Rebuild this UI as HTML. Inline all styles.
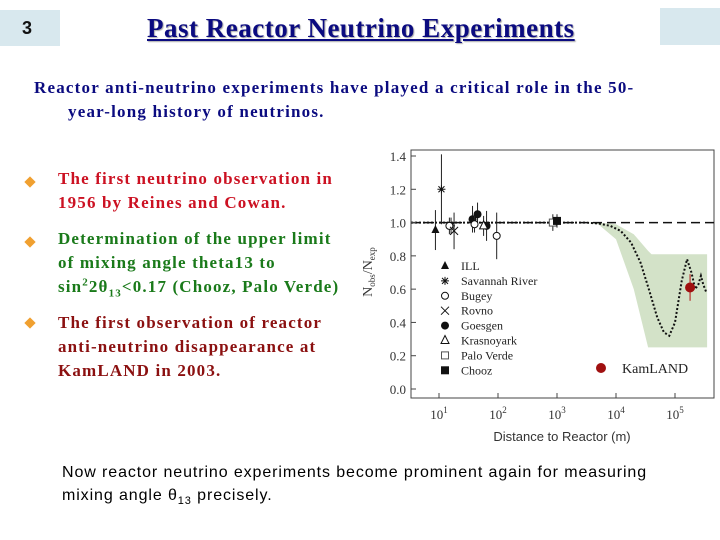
<!DOCTYPE html>
<html><head><meta charset="utf-8"><style>
body{margin:0;width:720px;height:540px;background:#fff;position:relative;overflow:hidden;font-family:"Liberation Serif",serif}
.abs{position:absolute;white-space:nowrap}
.b{font-weight:bold;font-size:17px;line-height:24px;letter-spacing:1.15px}
.b sup,.b sub{line-height:0;font-size:11px}
.bul{position:absolute;width:8px;height:8px;background:#f0a030;transform:rotate(45deg)}
</style></head><body>
<div class="abs" style="left:0;top:10px;width:60px;height:36px;background:#d8e8ee"></div>
<div class="abs" style="left:22px;top:18px;font:bold 18px 'Liberation Sans',sans-serif;color:#111">3</div>
<div class="abs" style="left:660px;top:8px;width:60px;height:37px;background:#d8e8ee"></div>
<div class="abs" style="left:147px;top:13px;font-weight:bold;font-size:27px;letter-spacing:0.5px;color:#0b0b80;text-decoration:underline;text-shadow:1px 1px 1px #aaa">Past Reactor Neutrino Experiments</div>
<div class="abs" style="left:34px;top:76px;font-weight:bold;font-size:17px;letter-spacing:1.2px;line-height:24px;color:#0b0b80">Reactor anti-neutrino experiments have played a critical role in the 50-<br><span style="padding-left:34px">year-long history of neutrinos.</span></div>
<div class="bul" style="left:26px;top:178px"></div>
<div class="bul" style="left:26px;top:238px"></div>
<div class="bul" style="left:26px;top:319px"></div>
<div class="abs b" style="left:58px;top:167px;color:#cc1122">The first neutrino observation in<br>1956 by Reines and Cowan.</div>
<div class="abs b" style="left:58px;top:227px;color:#1a7a1a">Determination of the upper limit<br>of mixing angle theta13 to<br>sin<sup>2</sup>2θ<sub>13</sub>&lt;0.17 (Chooz, Palo Verde)</div>
<div class="abs b" style="left:58px;top:311px;color:#8b1010">The first observation of reactor<br>anti-neutrino disappearance at<br>KamLAND in 2003.</div>
<div class="abs" style="left:62px;top:461px;font:16px/23px 'Liberation Sans',sans-serif;letter-spacing:0.9px;color:#000">Now reactor neutrino experiments become prominent again for measuring<br>mixing angle θ<sub style="font-size:11px;line-height:0">13</sub> precisely.</div>
<svg id="chart" width="720" height="540" style="position:absolute;left:0;top:0" font-family="Liberation Serif,serif"></svg>
<script>
const yTicks=[0,0.2,0.4,0.6,0.8,1.0,1.2,1.4];
const xDecades=[1,2,3,4,5];
const expNames=["ILL","Savannah River","Bugey","Rovno","Goesgen","Krasnoyark","Palo Verde","Chooz"];
const expMarkers=["tri","star","circ","x","dot","otri","osq","sq"];
const ptExp=[0,1,1,2,3,4,4,4,2,2,5,6,7];
const ptDist=[8.7,11,16,15,18,37,45,64,40,95,57,850,1000];
const ptRatio=[0.955,1.2,0.98,0.98,0.95,1.02,1.05,0.98,0.99,0.92,0.98,1.0,1.01];
const ptErr=[0.12,0.21,0.05,0.05,0.11,0.08,0.07,0.09,0.05,0.14,0.06,0.05,0.04];
const bandX=[3000,5000,1e4,2e4,3.5e4,4e4,3.5e5];
const bandTop=[1.0,1.0,0.99,0.93,0.83,0.81,0.81];
const bandBot=[1.0,0.99,0.9,0.6,0.25,0.25,0.25];
const curveX=[3000,5000,8000,1.2e4,1.8e4,2.6e4,3.6e4,5e4,6.5e4,8e4,1e5,1.3e5,1.6e5,1.9e5,2.2e5,2.5e5,2.75e5,3e5,3.4e5];
const curveY=[1.0,0.995,0.98,0.95,0.88,0.76,0.6,0.43,0.34,0.32,0.4,0.65,0.78,0.7,0.6,0.63,0.68,0.63,0.58];
const kamDist=[1.8e5],kamRatio=[0.61],kamErr=[0.08];
const S=document.getElementById('chart'),NS='http://www.w3.org/2000/svg';
const L=411,R=714,T=150,B=398;
const xs=v=>439+59*(Math.log10(v)-1), ys=v=>389-v/1.4*233;
function mk(tag,a,p){const e=document.createElementNS(NS,tag);for(const k in a)e.setAttribute(k,a[k]);(p||S).appendChild(e);return e;}
let d='M'+xs(bandX[0])+','+ys(bandTop[0]);
bandX.forEach((x,i)=>d+=' L'+xs(x)+','+ys(bandTop[i]));
for(let i=bandX.length-1;i>=0;i--)d+=' L'+xs(bandX[i])+','+ys(bandBot[i]);
const band=mk('path',{d:d+'Z',fill:'#d3e2c8'});


const fr=mk('rect',{x:L,y:T,width:R-L,height:B-T,fill:'none',stroke:'#444'});


const dl=mk('line',{x1:L,x2:R,y1:ys(1),y2:ys(1),stroke:'#111','stroke-width':1.5,'stroke-dasharray':'9,5'});


let cd='M'+L+','+ys(1)+' L'+xs(curveX[0])+','+ys(curveY[0]);
curveX.forEach((x,i)=>cd+=' L'+xs(x)+','+ys(curveY[i]));
const cv=mk('path',{d:cd,fill:'none',stroke:'#111','stroke-width':2,'stroke-dasharray':'2,2'});


yTicks.forEach(v=>{const y=ys(v);mk('line',{x1:L,x2:L+5,y1:y,y2:y,stroke:'#444'});
const t=mk('text',{x:406,y:y+5,'text-anchor':'end','font-size':13,fill:'#333'});t.textContent=v.toFixed(1);

});
xDecades.forEach(p=>{const x=xs(Math.pow(10,p));mk('line',{x1:x,x2:x,y1:B,y2:B-5,stroke:'#444'});
const t=mk('text',{x:x,y:419,'text-anchor':'middle','font-size':13,fill:'#333'});t.innerHTML='10<tspan dy="-6" font-size="9">'+p+'</tspan>';

});
const xt=mk('text',{x:562,y:441,'text-anchor':'middle','font-size':13,fill:'#333','font-family':'Liberation Sans,sans-serif'});xt.textContent='Distance to Reactor (m)';


const yt=mk('text',{transform:'translate(372,272) rotate(-90)','text-anchor':'middle','font-size':14,fill:'#333'});yt.innerHTML='N<tspan font-size="9" dy="3">obs</tspan><tspan dy="-3">/N</tspan><tspan font-size="9" dy="3">exp</tspan>';


function marker(type,x,y,g){const s=4;
if(type==='tri')mk('path',{d:`M${x},${y-s-1}L${x+s},${y+s-1}L${x-s},${y+s-1}Z`,fill:'#111'},g);
else if(type==='otri')mk('path',{d:`M${x},${y-s-1}L${x+s},${y+s-1}L${x-s},${y+s-1}Z`,fill:'#fff',stroke:'#111'},g);
else if(type==='circ')mk('circle',{cx:x,cy:y,r:3.5,fill:'#fff',stroke:'#111'},g);
else if(type==='dot')mk('circle',{cx:x,cy:y,r:4,fill:'#111'},g);
else if(type==='sq')mk('rect',{x:x-4,y:y-4,width:8,height:8,fill:'#111'},g);
else if(type==='osq')mk('rect',{x:x-3.5,y:y-3.5,width:7,height:7,fill:'#fff',stroke:'#555'},g);
else if(type==='x')mk('path',{d:`M${x-4},${y-4}L${x+4},${y+4}M${x+4},${y-4}L${x-4},${y+4}`,stroke:'#111'},g);
else if(type==='star')mk('path',{d:`M${x-4},${y}L${x+4},${y}M${x},${y-4}L${x},${y+4}M${x-3},${y-3}L${x+3},${y+3}M${x+3},${y-3}L${x-3},${y+3}`,stroke:'#111'},g);}
ptDist.forEach((dd,i)=>{const g=mk('g',{});


const x=xs(dd);mk('line',{x1:x,x2:x,y1:ys(ptRatio[i]+ptErr[i]),y2:ys(ptRatio[i]-ptErr[i]),stroke:'#222'},g);
marker(expMarkers[ptExp[i]],x,ys(ptRatio[i]),g);});
kamDist.forEach((dd,i)=>{const g=mk('g',{});


const x=xs(dd);mk('line',{x1:x,x2:x,y1:ys(kamRatio[i]+kamErr[i]),y2:ys(kamRatio[i]-kamErr[i]),stroke:'#b01010'},g);
mk('circle',{cx:x,cy:ys(kamRatio[i]),r:5,fill:'#a01010'},g);});
expNames.forEach((n,i)=>{const g=mk('g',{});


const y=266+i*14.9;marker(expMarkers[i],445,y,g);
const t=mk('text',{x:461,y:y+4,'font-size':12,fill:'#222'},g);t.textContent=n;});
const kg=mk('g',{});


mk('circle',{cx:601,cy:368,r:5,fill:'#a01010'},kg);
const kt=mk('text',{x:622,y:373,'font-size':14,fill:'#222'},kg);kt.textContent='KamLAND';
</script>
</body></html>
